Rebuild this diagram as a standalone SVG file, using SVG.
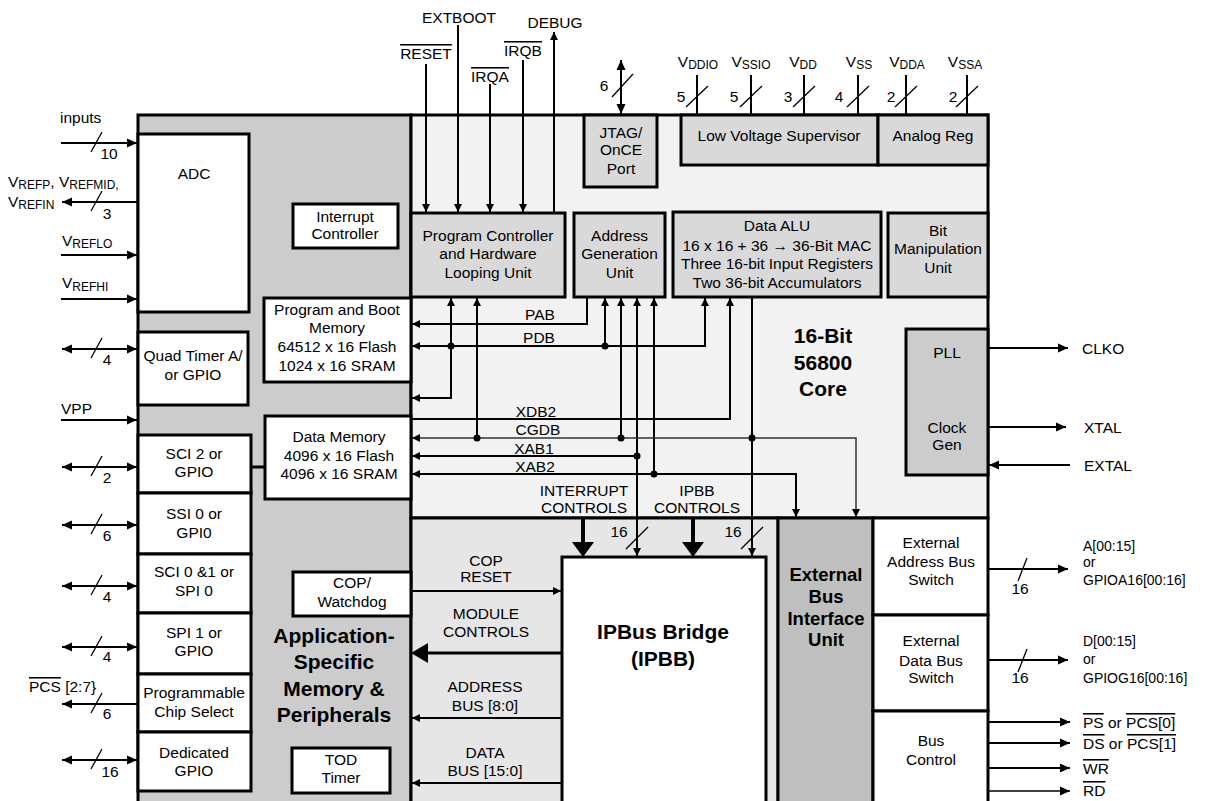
<svg xmlns="http://www.w3.org/2000/svg" width="1208" height="801" viewBox="0 0 1208 801">
<style>
text{font-family:"Liberation Sans",Arial,Helvetica,sans-serif;font-size:15.5px;fill:#000}
.m{text-anchor:middle}
.b{font-weight:bold;font-size:21px}
.b2{font-weight:bold;font-size:18.5px}
.sub{font-size:12px}
.sm{font-size:14px}
.ol{text-decoration:overline}
.bx{stroke:#000;stroke-width:3}
.w{fill:#fff}
.g1{fill:#d9d9d9}
.g2{fill:#cccccc}
.ln{fill:none;stroke:#000;stroke-width:2}
.thn{fill:none;stroke:#333;stroke-width:1.5}
.sl{fill:none;stroke:#000;stroke-width:1.3}
.dot{fill:#000}
</style>
<defs>
<marker id="a" viewBox="0 0 10 10" refX="10" refY="5" markerWidth="10" markerHeight="10" markerUnits="userSpaceOnUse" orient="auto-start-reverse"><path d="M0,0.5 L10,5 L0,9.5z" fill="#000"/></marker>
<marker id="s" viewBox="0 0 10 10" refX="10" refY="5" markerWidth="8" markerHeight="8" markerUnits="userSpaceOnUse" orient="auto-start-reverse"><path d="M0,0 L10,5 L0,10z" fill="#000"/></marker>
</defs>
<rect x="0" y="0" width="1208" height="801" fill="#fff"/>

<g id="app-region">
<rect x="138" y="115" width="273" height="700" class="bx g2"/>
<text x="334" y="643" class="m b">Application-</text>
<text x="334" y="669" class="m b">Specific</text>
<text x="334" y="696" class="m b">Memory &amp;</text>
<text x="334" y="722" class="m b">Peripherals</text>
</g>
<g id="core">
<rect x="411" y="115" width="577" height="403" class="bx" fill="#f2f2f2"/>
<text x="823" y="343" class="m b">16-Bit</text>
<text x="823" y="370" class="m b">56800</text>
<text x="823" y="396" class="m b">Core</text>
</g>
<g id="ipbus-area">
<rect x="411" y="518" width="367" height="300" class="bx" fill="#e6e6e6"/>
</g>
<g id="ebiu">
<rect x="778" y="518" width="95" height="300" class="bx" fill="#bfbfbf"/>
<text x="826" y="581" class="m b2">External</text>
<text x="826" y="603" class="m b2">Bus</text>
<text x="826" y="625" class="m b2">Interface</text>
<text x="826" y="646" class="m b2">Unit</text>
</g>
<g id="ext-addr-switch">
<rect x="873" y="518" width="115" height="97" class="bx w"/>
<text x="931" y="548" class="m">External</text>
<text x="931" y="567" class="m">Address Bus</text>
<text x="931" y="585" class="m">Switch</text>
</g>
<g id="ext-data-switch">
<rect x="873" y="615" width="115" height="96" class="bx w"/>
<text x="931" y="646" class="m">External</text>
<text x="931" y="666" class="m">Data Bus</text>
<text x="931" y="683" class="m">Switch</text>
</g>
<g id="bus-control">
<rect x="873" y="711" width="115" height="110" class="bx w"/>
<text x="931" y="746" class="m">Bus</text>
<text x="931" y="765" class="m">Control</text>
</g>

<g id="adc"><rect x="138" y="134" width="111" height="178" class="bx w"/><text x="194" y="179" class="m">ADC</text></g>
<g id="quad-timer"><rect x="138" y="332" width="110" height="73" class="bx w"/><text x="193" y="361" class="m">Quad Timer A/</text><text x="193" y="380" class="m">or GPIO</text></g>
<g id="sci2"><rect x="138" y="435" width="113" height="58" class="bx w"/><text x="194" y="459" class="m">SCI 2 or</text><text x="194" y="477" class="m">GPIO</text></g>
<g id="ssi0"><rect x="138" y="493" width="113" height="61" class="bx w"/><text x="194" y="519" class="m">SSI 0 or</text><text x="194" y="538" class="m">GPI0</text></g>
<g id="sci01"><rect x="138" y="554" width="113" height="59" class="bx w"/><text x="194" y="577" class="m">SCI 0 &amp;1 or</text><text x="194" y="596" class="m">SPI 0</text></g>
<g id="spi1"><rect x="138" y="613" width="113" height="61" class="bx w"/><text x="194" y="638" class="m">SPI 1 or</text><text x="194" y="656" class="m">GPIO</text></g>
<g id="pcs"><rect x="138" y="674" width="113" height="58" class="bx w"/><text x="194" y="698" class="m">Programmable</text><text x="194" y="717" class="m">Chip Select</text></g>
<g id="dgpio"><rect x="138" y="732" width="113" height="59" class="bx w"/><text x="194" y="758" class="m">Dedicated</text><text x="194" y="776" class="m">GPIO</text></g>

<g id="interrupt-controller"><rect x="293" y="204" width="105" height="44" class="bx w"/><text x="345" y="222" class="m">Interrupt</text><text x="345" y="239" class="m">Controller</text></g>
<g id="program-memory"><rect x="264" y="298" width="147" height="84" class="bx w"/><text x="337" y="315" class="m">Program and Boot</text><text x="337" y="333" class="m">Memory</text><text x="337" y="352" class="m">64512 x 16 Flash</text><text x="337" y="371" class="m">1024 x 16 SRAM</text></g>
<g id="data-memory"><rect x="265" y="416" width="146" height="83" class="bx w"/><text x="339" y="442" class="m">Data Memory</text><text x="339" y="461" class="m">4096 x 16 Flash</text><text x="339" y="479" class="m">4096 x 16 SRAM</text></g>
<g id="cop"><rect x="293" y="572" width="118" height="44" class="bx w"/><text x="352" y="588" class="m">COP/</text><text x="352" y="607" class="m">Watchdog</text></g>
<g id="tod"><rect x="292" y="748" width="98" height="45" class="bx w"/><text x="341" y="765" class="m">TOD</text><text x="341" y="783" class="m">Timer</text></g>

<g id="jtag"><rect x="584" y="115" width="73" height="72" class="bx g1"/><text x="621" y="138" class="m">JTAG/</text><text x="621" y="155" class="m">OnCE</text><text x="621" y="174" class="m">Port</text></g>
<g id="lvs"><rect x="681" y="115" width="197" height="50" class="bx g1"/><text x="779" y="141" class="m">Low Voltage Supervisor</text></g>
<g id="analog-reg"><rect x="878" y="115" width="110" height="50" class="bx g1"/><text x="933" y="141" class="m">Analog Reg</text></g>
<g id="program-controller"><rect x="411" y="213" width="154" height="84" class="bx g1"/><text x="488" y="241" class="m">Program Controller</text><text x="488" y="259" class="m">and Hardware</text><text x="488" y="278" class="m">Looping Unit</text></g>
<g id="agu"><rect x="574" y="213" width="91" height="84" class="bx g1"/><text x="619.5" y="241" class="m">Address</text><text x="619.5" y="259" class="m">Generation</text><text x="619.5" y="278" class="m">Unit</text></g>
<g id="data-alu"><rect x="673" y="212" width="208" height="85" class="bx g1"/><text x="777" y="231" class="m">Data ALU</text><text x="777" y="251" class="m">16 x 16 + 36 → 36-Bit MAC</text><text x="777" y="269" class="m">Three 16-bit Input Registers</text><text x="777" y="288" class="m">Two 36-bit Accumulators</text></g>
<g id="bit-manip"><rect x="888" y="213" width="100" height="84" class="bx g1"/><text x="938" y="236" class="m">Bit</text><text x="938" y="254" class="m">Manipulation</text><text x="938" y="273" class="m">Unit</text></g>
<g id="pll"><rect x="906" y="329" width="82" height="146" class="bx g2"/><text x="947" y="358" class="m">PLL</text><text x="947" y="433" class="m">Clock</text><text x="947" y="450" class="m">Gen</text></g>
<g id="ipbb"><rect x="562" y="557" width="204" height="260" class="bx w"/><text x="663" y="639" class="m b">IPBus Bridge</text><text x="663" y="666" class="m b">(IPBB)</text></g>

<g id="connectors">
<!-- top control signals -->
<line x1="426" y1="64" x2="426" y2="212" class="ln" marker-end="url(#s)"/>
<line x1="458" y1="25" x2="458" y2="212" class="ln" marker-end="url(#s)"/>
<line x1="490" y1="84" x2="490" y2="212" class="ln" marker-end="url(#s)"/>
<line x1="523" y1="60" x2="523" y2="212" class="ln" marker-end="url(#s)"/>
<line x1="554" y1="213" x2="554" y2="32" class="ln" marker-end="url(#s)"/>
<text x="426" y="59" class="m ol">RESET</text>
<text x="459" y="23" class="m">EXTBOOT</text>
<text x="490" y="82" class="m ol">IRQA</text>
<text x="523" y="56" class="m ol">IRQB</text>
<text x="555" y="28" class="m">DEBUG</text>
<!-- JTAG -->
<line x1="621" y1="60" x2="621" y2="114" class="ln" marker-start="url(#a)" marker-end="url(#a)"/>
<line x1="612" y1="97" x2="633" y2="74" class="sl"/>
<text x="604" y="91" class="m">6</text>
<!-- power pins -->
<path d="M697,75V115M751,75V115M804,75V115M858,75V115M906,75V115M967,75V115" class="ln"/>
<path d="M686,107L708,86M740,107L762,86M793,107L815,86M847,107L869,86M895,107L917,86M956,107L978,86" class="sl"/>
<text x="681" y="102" class="m">5</text>
<text x="734" y="102" class="m">5</text>
<text x="788" y="102" class="m">3</text>
<text x="839" y="102" class="m">4</text>
<text x="891" y="102" class="m">2</text>
<text x="953" y="102" class="m">2</text>
<text x="698" y="67" class="m">V<tspan class="sub" dy="2">DDIO</tspan></text>
<text x="751" y="67" class="m">V<tspan class="sub" dy="2">SSIO</tspan></text>
<text x="803" y="67" class="m">V<tspan class="sub" dy="2">DD</tspan></text>
<text x="859" y="67" class="m">V<tspan class="sub" dy="2">SS</tspan></text>
<text x="907" y="67" class="m">V<tspan class="sub" dy="2">DDA</tspan></text>
<text x="965" y="67" class="m">V<tspan class="sub" dy="2">SSA</tspan></text>
<!-- left side signals -->
<line x1="61" y1="143" x2="137" y2="143" class="ln" marker-end="url(#a)"/>
<line x1="138" y1="202" x2="62" y2="202" class="ln" marker-end="url(#a)"/>
<line x1="61" y1="255" x2="137" y2="255" class="ln" marker-end="url(#a)"/>
<line x1="61" y1="299" x2="137" y2="299" class="ln" marker-end="url(#a)"/>
<line x1="62" y1="349" x2="137" y2="349" class="ln" marker-start="url(#a)" marker-end="url(#a)"/>
<line x1="61" y1="420" x2="137" y2="420" class="ln" marker-end="url(#a)"/>
<line x1="62" y1="467" x2="137" y2="467" class="ln" marker-start="url(#a)" marker-end="url(#a)"/>
<line x1="62" y1="525" x2="137" y2="525" class="ln" marker-start="url(#a)" marker-end="url(#a)"/>
<line x1="62" y1="586" x2="137" y2="586" class="ln" marker-start="url(#a)" marker-end="url(#a)"/>
<line x1="62" y1="647" x2="137" y2="647" class="ln" marker-start="url(#a)" marker-end="url(#a)"/>
<line x1="138" y1="704" x2="62" y2="704" class="ln" marker-end="url(#a)"/>
<line x1="62" y1="760" x2="137" y2="760" class="ln" marker-start="url(#a)" marker-end="url(#a)"/>
<path d="M91,152L102,132M91,211L102,191M91,358L102,338M91,476L102,456M91,534L102,514M91,595L102,575M91,656L102,636M91,713L102,693M91,769L102,749" class="sl"/>
<text x="109" y="159" class="m">10</text>
<text x="107" y="219" class="m">3</text>
<text x="107" y="365" class="m">4</text>
<text x="107" y="483" class="m">2</text>
<text x="107" y="541" class="m">6</text>
<text x="107" y="602" class="m">4</text>
<text x="107" y="662" class="m">4</text>
<text x="107" y="719" class="m">6</text>
<text x="110" y="777" class="m">16</text>
<text x="60" y="123">inputs</text>
<text x="8" y="187">V<tspan class="sub" dy="2">REFP</tspan><tspan dy="-2">, V</tspan><tspan class="sub" dy="2">REFMID</tspan><tspan class="sub">,</tspan></text>
<text x="8" y="207">V<tspan class="sub" dy="2">REFIN</tspan></text>
<text x="62" y="246">V<tspan class="sub" dy="2">REFLO</tspan></text>
<text x="62" y="288">V<tspan class="sub" dy="3">REFHI</tspan></text>
<text x="61" y="414">VPP</text>
<text x="29" y="692"><tspan class="ol">PCS</tspan> [2:7}</text>
<line x1="251" y1="467" x2="265" y2="467" stroke="#000" stroke-width="3"/>
<!-- core buses -->
<path d="M587,297V324H412" class="ln" marker-end="url(#s)"/>
<path d="M705,298V346H412" class="ln" marker-start="url(#s)" marker-end="url(#s)"/>
<path d="M451,298V398H412" class="ln" marker-start="url(#s)" marker-end="url(#s)"/>
<path d="M605,346V298" class="ln" marker-end="url(#s)"/>
<path d="M477,298V438" class="ln" marker-start="url(#s)"/>
<path d="M621,298V438" class="ln" marker-start="url(#s)"/>
<path d="M637,298V556" class="ln" marker-start="url(#s)" marker-end="url(#s)"/>
<path d="M654,298V474" class="ln" marker-start="url(#s)"/>
<path d="M412,419H730V298" class="ln" marker-end="url(#s)"/>
<path d="M412,438H856V517" class="thn" marker-start="url(#s)" marker-end="url(#s)"/>
<path d="M752,297V556" class="ln" marker-end="url(#s)"/>
<path d="M412,456H637" class="ln" marker-start="url(#s)"/>
<path d="M412,474H796V517" class="ln" marker-start="url(#s)" marker-end="url(#s)"/>
<circle cx="451" cy="346" r="3.5" class="dot"/>
<circle cx="605" cy="346" r="3.5" class="dot"/>
<circle cx="477" cy="438" r="3.5" class="dot"/>
<circle cx="621" cy="438" r="3.5" class="dot"/>
<circle cx="752" cy="438" r="3.5" class="dot"/>
<circle cx="637" cy="456" r="3.5" class="dot"/>
<circle cx="654" cy="474" r="3.5" class="dot"/>
<text x="540" y="320" class="m">PAB</text>
<text x="539" y="343" class="m">PDB</text>
<text x="536" y="417" class="m">XDB2</text>
<text x="538" y="435" class="m">CGDB</text>
<text x="534" y="454" class="m">XAB1</text>
<text x="535" y="472" class="m">XAB2</text>
<text x="584" y="496" class="m">INTERRUPT</text>
<text x="584" y="513" class="m">CONTROLS</text>
<text x="697" y="496" class="m">IPBB</text>
<text x="697" y="513" class="m">CONTROLS</text>
<!-- into IPBB -->
<line x1="583" y1="518" x2="583" y2="545" stroke="#000" stroke-width="4"/>
<polygon points="572,542 594,542 583,557" fill="#000"/>
<line x1="693" y1="518" x2="693" y2="545" stroke="#000" stroke-width="4"/>
<polygon points="682,542 704,542 693,557" fill="#000"/>
<path d="M626,549L648,527M741,549L763,527" class="sl"/>
<text x="619" y="537" class="m">16</text>
<text x="733" y="537" class="m">16</text>
<!-- IPBB side -->
<line x1="411" y1="591" x2="561" y2="591" class="ln" marker-end="url(#s)"/>
<line x1="562" y1="653" x2="426" y2="653" stroke="#000" stroke-width="3"/>
<polygon points="411,653 428,643 428,663" fill="#000"/>
<line x1="562" y1="718" x2="412" y2="718" class="ln" marker-end="url(#s)"/>
<line x1="562" y1="783" x2="412" y2="783" class="ln" marker-end="url(#s)"/>
<text x="486" y="566" class="m">COP</text>
<text x="486" y="582" class="m">RESET</text>
<text x="486" y="619" class="m">MODULE</text>
<text x="486" y="637" class="m">CONTROLS</text>
<text x="485" y="692" class="m">ADDRESS</text>
<text x="485" y="711" class="m">BUS [8:0]</text>
<text x="485" y="758" class="m">DATA</text>
<text x="485" y="776" class="m">BUS [15:0]</text>
<!-- right side -->
<line x1="988" y1="348" x2="1068" y2="348" class="ln" marker-end="url(#a)"/>
<line x1="988" y1="427" x2="1066" y2="427" class="ln" marker-end="url(#a)"/>
<line x1="1070" y1="465" x2="989" y2="465" class="ln" marker-end="url(#a)"/>
<text x="1082" y="354">CLKO</text>
<text x="1084" y="433">XTAL</text>
<text x="1084" y="471">EXTAL</text>
<line x1="988" y1="569" x2="1068" y2="569" class="ln" marker-end="url(#a)"/>
<line x1="988" y1="660" x2="1068" y2="660" class="ln" marker-end="url(#a)"/>
<path d="M1018,581L1027,558M1018,672L1027,649" class="sl"/>
<text x="1020" y="594" class="m">16</text>
<text x="1020" y="683" class="m">16</text>
<text x="1083" y="551" class="sm">A[00:15]</text>
<text x="1083" y="567" class="sm">or</text>
<text x="1083" y="585" class="sm">GPIOA16[00:16]</text>
<text x="1083" y="646" class="sm">D[00:15]</text>
<text x="1083" y="664" class="sm">or</text>
<text x="1083" y="683" class="sm">GPIOG16[00:16]</text>
<line x1="988" y1="722" x2="1070" y2="722" class="ln" marker-end="url(#a)"/>
<line x1="988" y1="743" x2="1070" y2="743" class="ln" marker-end="url(#a)"/>
<line x1="988" y1="768" x2="1070" y2="768" class="ln" marker-end="url(#a)"/>
<line x1="988" y1="791" x2="1070" y2="791" stroke="#000" stroke-width="1.3" marker-end="url(#a)"/>
<text x="1083" y="728"><tspan class="ol">PS</tspan> or <tspan class="ol">PCS[0]</tspan></text>
<text x="1083" y="749"><tspan class="ol">DS</tspan> or <tspan class="ol">PCS[1]</tspan></text>
<text x="1083" y="774" class="ol">WR</text>
<text x="1083" y="796" class="ol">RD</text>
</g>
</svg>
